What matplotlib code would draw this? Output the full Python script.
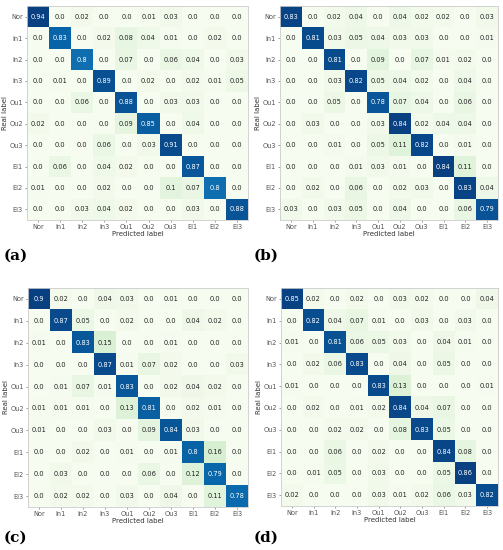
import numpy as np
import matplotlib
matplotlib.use("Agg")
import matplotlib.pyplot as plt

labels = ["Nor", "In1", "In2", "In3", "Ou1", "Ou2", "Ou3", "El1", "El2", "El3"]

cm_a = [
    [0.94, 0.0, 0.02, 0.0, 0.0, 0.01, 0.03, 0.0, 0.0, 0.0],
    [0.0, 0.83, 0.0, 0.02, 0.08, 0.04, 0.01, 0.0, 0.02, 0.0],
    [0.0, 0.0, 0.8, 0.0, 0.07, 0.0, 0.06, 0.04, 0.0, 0.03],
    [0.0, 0.01, 0.0, 0.89, 0.0, 0.02, 0.0, 0.02, 0.01, 0.05],
    [0.0, 0.0, 0.06, 0.0, 0.88, 0.0, 0.03, 0.03, 0.0, 0.0],
    [0.02, 0.0, 0.0, 0.0, 0.09, 0.85, 0.0, 0.04, 0.0, 0.0],
    [0.0, 0.0, 0.0, 0.06, 0.0, 0.03, 0.91, 0.0, 0.0, 0.0],
    [0.0, 0.06, 0.0, 0.04, 0.02, 0.0, 0.0, 0.87, 0.0, 0.0],
    [0.01, 0.0, 0.0, 0.02, 0.0, 0.0, 0.1, 0.07, 0.8, 0.0],
    [0.0, 0.0, 0.03, 0.04, 0.02, 0.0, 0.0, 0.03, 0.0, 0.88],
]

cm_b = [
    [0.83, 0.0, 0.02, 0.04, 0.0, 0.04, 0.02, 0.02, 0.0, 0.03],
    [0.0, 0.81, 0.03, 0.05, 0.04, 0.03, 0.03, 0.0, 0.0, 0.01],
    [0.0, 0.0, 0.81, 0.0, 0.09, 0.0, 0.07, 0.01, 0.02, 0.0],
    [0.0, 0.0, 0.03, 0.82, 0.05, 0.04, 0.02, 0.0, 0.04, 0.0],
    [0.0, 0.0, 0.05, 0.0, 0.78, 0.07, 0.04, 0.0, 0.06, 0.0],
    [0.0, 0.03, 0.0, 0.0, 0.03, 0.84, 0.02, 0.04, 0.04, 0.0],
    [0.0, 0.0, 0.01, 0.0, 0.05, 0.11, 0.82, 0.0, 0.01, 0.0],
    [0.0, 0.0, 0.0, 0.01, 0.03, 0.01, 0.0, 0.84, 0.11, 0.0],
    [0.0, 0.02, 0.0, 0.06, 0.0, 0.02, 0.03, 0.0, 0.83, 0.04],
    [0.03, 0.0, 0.03, 0.05, 0.0, 0.04, 0.0, 0.0, 0.06, 0.79],
]

cm_c = [
    [0.9, 0.02, 0.0, 0.04, 0.03, 0.0, 0.01, 0.0, 0.0, 0.0],
    [0.0, 0.87, 0.05, 0.0, 0.02, 0.0, 0.0, 0.04, 0.02, 0.0],
    [0.01, 0.0, 0.83, 0.15, 0.0, 0.0, 0.01, 0.0, 0.0, 0.0],
    [0.0, 0.0, 0.0, 0.87, 0.01, 0.07, 0.02, 0.0, 0.0, 0.03],
    [0.0, 0.01, 0.07, 0.01, 0.83, 0.0, 0.02, 0.04, 0.02, 0.0],
    [0.01, 0.01, 0.01, 0.0, 0.13, 0.81, 0.0, 0.02, 0.01, 0.0],
    [0.01, 0.0, 0.0, 0.03, 0.0, 0.09, 0.84, 0.03, 0.0, 0.0],
    [0.0, 0.0, 0.02, 0.0, 0.01, 0.0, 0.01, 0.8, 0.16, 0.0],
    [0.0, 0.03, 0.0, 0.0, 0.0, 0.06, 0.0, 0.12, 0.79, 0.0],
    [0.0, 0.02, 0.02, 0.0, 0.03, 0.0, 0.04, 0.0, 0.11, 0.78],
]

cm_d = [
    [0.85, 0.02, 0.0, 0.02, 0.0, 0.03, 0.02, 0.0, 0.0, 0.04],
    [0.0, 0.82, 0.04, 0.07, 0.01, 0.0, 0.03, 0.0, 0.03, 0.0],
    [0.01, 0.0, 0.81, 0.06, 0.05, 0.03, 0.0, 0.04, 0.01, 0.0],
    [0.0, 0.02, 0.06, 0.83, 0.0, 0.04, 0.0, 0.05, 0.0, 0.0],
    [0.01, 0.0, 0.0, 0.0, 0.83, 0.13, 0.0, 0.0, 0.0, 0.01],
    [0.0, 0.02, 0.0, 0.01, 0.02, 0.84, 0.04, 0.07, 0.0, 0.0],
    [0.0, 0.0, 0.02, 0.02, 0.0, 0.08, 0.83, 0.05, 0.0, 0.0],
    [0.0, 0.0, 0.06, 0.0, 0.02, 0.0, 0.0, 0.84, 0.08, 0.0],
    [0.0, 0.01, 0.05, 0.0, 0.03, 0.0, 0.0, 0.05, 0.86, 0.0],
    [0.02, 0.0, 0.0, 0.0, 0.03, 0.01, 0.02, 0.06, 0.03, 0.82],
]

W, H = 503, 550
fig = plt.figure(figsize=(W / 100, H / 100), dpi=100)

# pixel boxes: left, top, right, bottom
boxes = [(27, 6, 248, 220), (280, 6, 498, 220),
         (28, 288, 248, 507), (281, 288, 498, 506)]
captions = [("(a)", 4, 256), ("(b)", 254, 256), ("(c)", 4, 538), ("(d)", 254, 538)]


def draw_cm(ax, cm):
    cm = np.array(cm)
    ax.imshow(cm, cmap="GnBu", vmin=0, vmax=cm.max(), aspect="auto",
              interpolation="nearest")
    thresh = cm.max() / 2.0
    for i in range(cm.shape[0]):
        for j in range(cm.shape[1]):
            v = cm[i, j]
            ax.text(j, i, str(round(v, 2)), ha="center", va="center",
                    fontsize=4.8, color="white" if v > thresh else "#222222")
    ax.set_xticks(range(len(labels)))
    ax.set_yticks(range(len(labels)))
    ax.set_xticklabels(labels, fontsize=4.8, color="#333333")
    ax.set_yticklabels(labels, fontsize=4.8, color="#333333")
    ax.tick_params(length=1.5, width=0.4, pad=1.5, colors="#555555")
    ax.set_xlabel("Predicted label", fontsize=5, labelpad=0.5, color="#333333")
    ax.set_ylabel("Real label", fontsize=5, labelpad=1, color="#333333")
    for s in ax.spines.values():
        s.set_color("#cccccc")
        s.set_linewidth(0.6)


for (l, t, r, b), cm in zip(boxes, [cm_a, cm_b, cm_c, cm_d]):
    ax = fig.add_axes([l / W, 1 - b / H, (r - l) / W, (b - t) / H])
    draw_cm(ax, cm)

for txt, x, y in captions:
    fig.text(x / W, 1 - y / H, txt, fontsize=11, fontweight="bold",
             family="DejaVu Serif", va="center", ha="left")

fig.savefig("out.png", dpi=100)
